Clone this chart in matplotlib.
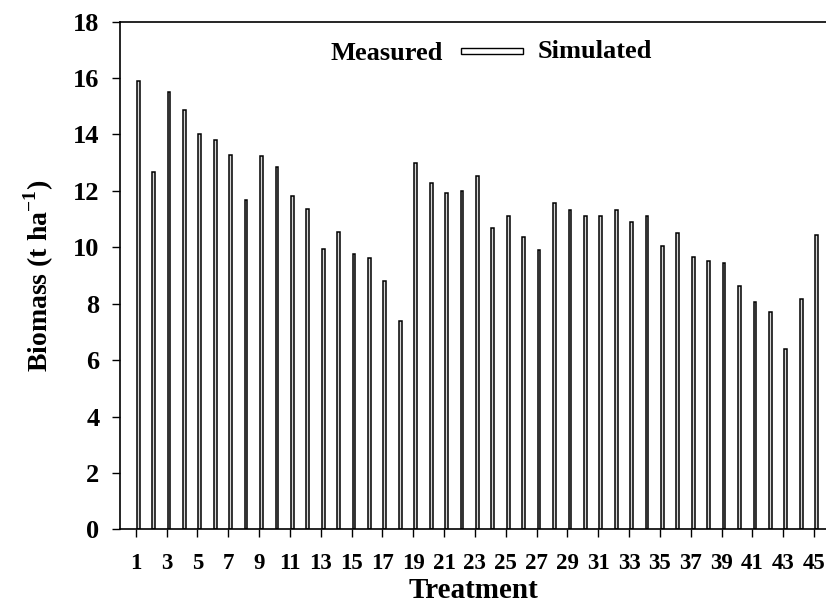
import matplotlib
matplotlib.use("Agg")
import matplotlib.pyplot as plt
from matplotlib.patches import Rectangle
import numpy as np

treatments = list(range(1, 46))
simulated = [15.91, 12.68, 15.52, 14.86, 14.03, 13.80, 13.26, 11.68, 13.23, 12.84,
             11.82, 11.36, 9.93, 10.54, 9.77, 9.63, 8.80, 7.40, 13.00, 12.29,
             11.93, 11.99, 12.53, 10.70, 11.12, 10.38, 9.90, 11.58, 11.33, 11.12,
             11.11, 11.32, 10.91, 11.11, 10.06, 10.52, 9.67, 9.50, 9.44, 8.62,
             8.07, 7.71, 6.40, 8.18, 10.45]
xtick_values = list(range(1, 46, 2))
ytick_values = list(range(0, 19, 2))

plt.rcParams['font.family'] = ['Liberation Serif', 'DejaVu Serif']
plt.rcParams['font.weight'] = 'bold'
plt.rcParams['mathtext.fontset'] = 'custom'
plt.rcParams['mathtext.rm'] = 'Liberation Serif:bold'
plt.rcParams['mathtext.bf'] = 'Liberation Serif:bold'

fig = plt.figure(figsize=(8.26, 6.14), dpi=100)
ax = fig.add_axes([0.1456, 0.1379, 1.0 - 0.1456, 0.9647 - 0.1379])

x = np.array(treatments, dtype=float)
ax.bar(x + 0.16, simulated, width=0.18, facecolor='#d8d8d8', edgecolor='black',
       linewidth=1.1, label='Simulated')

ax.set_xlim(0, 45.77)
ax.set_ylim(0, 18)
ax.set_xticks(xtick_values)
ax.set_xticklabels([str(v) for v in xtick_values], fontsize=16.5, fontweight='bold')
ax.set_yticks(ytick_values)
ax.set_yticklabels([str(v) for v in ytick_values], fontsize=19, fontweight='bold')
ax.tick_params(axis='both', direction='out', length=6, width=1, color='black')
ax.tick_params(axis='x', pad=11)
ax.tick_params(axis='y', pad=9)
for s in ['left', 'bottom', 'top']:
    ax.spines[s].set_linewidth(1.2)
ax.spines['right'].set_visible(False)

ax.set_xlabel('Treatment', fontsize=21, fontweight='bold', labelpad=2)
ax.set_ylabel('Biomass (t ha$^{\\mathbf{-1}}$)', fontsize=20, fontweight='bold', labelpad=12)

# legend drawn manually to match layout: "Measured [box] Simulated"
fig.text(443 / 826, 1 - 60 / 614, 'Measured', ha='right', va='baseline', fontsize=19, fontweight='bold')
fig.patches.append(Rectangle((461 / 826, 1 - 54.3 / 614), (523 - 461) / 826, 6.6 / 614,
                             transform=fig.transFigure, facecolor='white', edgecolor='black',
                             linewidth=1.0))
fig.text(538 / 826, 1 - 58 / 614, 'Simulated', ha='left', va='baseline', fontsize=19, fontweight='bold')

fig.savefig('out.png', dpi=100)
